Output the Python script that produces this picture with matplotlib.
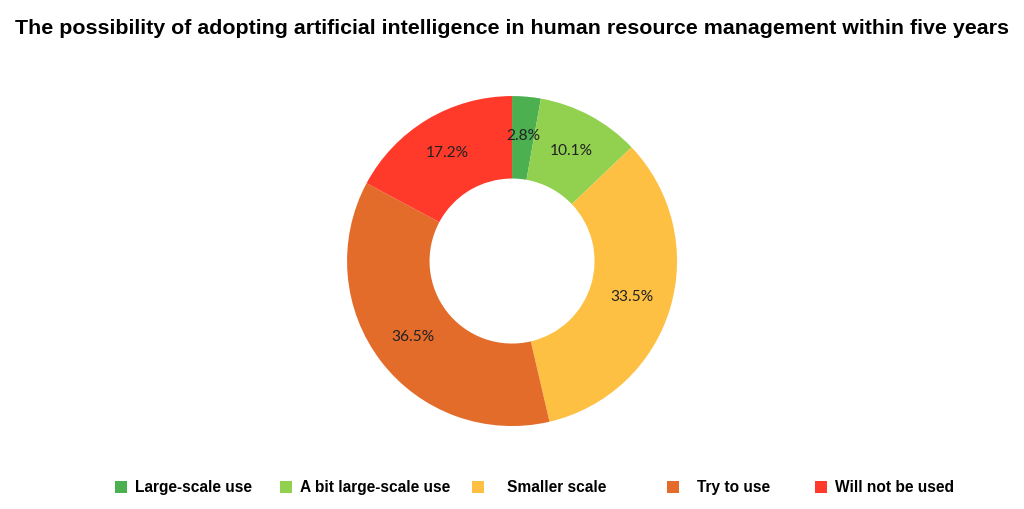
import matplotlib
matplotlib.use('Agg')
from matplotlib import pyplot as plt

categories = ['Large-scale use', 'A bit large-scale use', 'Smaller scale', 'Try to use', 'Will not be used']
shares = [2.8, 10.1, 33.5, 36.5, 17.2]
colors = ['#4caf50', '#92d050', '#fec043', '#e36c2b', '#ff3a2b']

# legend entries in the original are unevenly spaced, so each one is placed by hand
legend_x = [115, 280, 472, 667, 815]      # left edge of each square, px
legend_pad = [0.51, 0.51, 1.47, 1.15, 0.51]  # gap square -> text, in font units

fig = plt.figure(figsize=(10.24, 5.09), dpi=100)
ax = fig.add_axes([0.3389, 0.163, 0.3223, 0.6483])

wedges, texts, autotexts = ax.pie(shares, colors=colors, startangle=90, counterclock=False,
                                  wedgeprops=dict(width=0.5, edgecolor='none'),
                                  autopct='%1.1f%%', pctdistance=0.76,
                                  textprops=dict(fontsize=11.2, family='Lato', color='#222222'))
ax.set_xlim(-1, 1)
ax.set_ylim(-1, 1)
ax.set_aspect('equal')

fig.suptitle('The possibility of adopting artificial intelligence in human resource management within five years',
             x=0.5, y=0.962, fontsize=15.4, fontweight='bold', family='Liberation Sans')

for w, name, x, pad in zip(wedges, categories, legend_x, legend_pad):
    leg = fig.legend([w], [name], loc='center left', bbox_to_anchor=(x / 1024, 1 - 487.5 / 509),
                     frameon=False, borderpad=0, borderaxespad=0,
                     handlelength=0.8, handleheight=0.8, handletextpad=pad,
                     prop=dict(family='Liberation Sans', weight='bold', size=11.2))

fig.savefig('out.png', dpi=100)
